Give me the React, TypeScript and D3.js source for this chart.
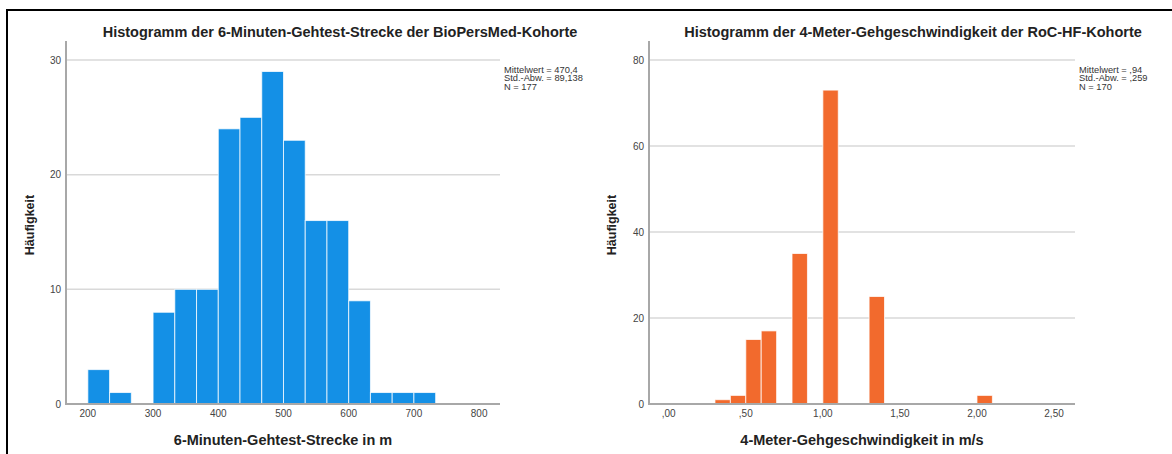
import React from "react";
import * as d3 from "d3";

// ---- Data ----
const leftTitle = "Histogramm der 6-Minuten-Gehtest-Strecke der BioPersMed-Kohorte";
const leftXLabel = "6-Minuten-Gehtest-Strecke in m";
const leftBinStart = 200;
const leftBinWidth = 100 / 3;
const leftCounts = [3, 1, 0, 8, 10, 10, 24, 25, 29, 23, 16, 16, 9, 1, 1, 1];
const leftXTicks = [200, 300, 400, 500, 600, 700, 800];
const leftYTicks = [0, 10, 20, 30];
const leftStats = ["Mittelwert = 470,4", "Std.-Abw. = 89,138", "N = 177"];

const rightTitle = "Histogramm der 4-Meter-Gehgeschwindigkeit der RoC-HF-Kohorte";
const rightXLabel = "4-Meter-Gehgeschwindigkeit in m/s";
const rightBinStart = 0.3;
const rightBinWidth = 0.1;
const rightCounts = [1, 2, 15, 17, 0, 35, 0, 73, 0, 0, 25, 0, 0, 0, 0, 0, 0, 2];
const rightXTicks = [0, 0.5, 1.0, 1.5, 2.0, 2.5];
const rightYTicks = [0, 20, 40, 60, 80];
const rightStats = ["Mittelwert = ,94", "Std.-Abw. = ,259", "N = 170"];

const yLabel = "Häufigkeit";

const FONT = "'Liberation Sans', Arial, sans-serif";

const fmtDe = (v: number) => {
  const s = v.toFixed(2).replace(".", ",");
  return s.startsWith("0,") ? s.slice(1) : s;
};

type PanelProps = {
  title: string;
  titleX: number;
  xLabel: string;
  xDomain: [number, number];
  xRange: [number, number];
  yMax: number;
  binStart: number;
  binWidth: number;
  counts: number[];
  xTicks: number[];
  yTicks: number[];
  xFmt: (v: number) => string;
  stats: string[];
  color: string;
  yLabelX: number;
};

function Panel(p: PanelProps) {
  const top = 41;
  const bottom = 404;
  const x = d3.scaleLinear().domain(p.xDomain).range(p.xRange);
  const y = d3.scaleLinear().domain([0, p.yMax]).range([bottom, top]);
  const [x0, x1] = p.xRange;
  const bins = p.counts.map((c, i) => ({
    lo: p.binStart + i * p.binWidth,
    hi: p.binStart + (i + 1) * p.binWidth,
    c,
  }));
  return (
    <g>
      <text
        x={p.titleX}
        y={37}
        textAnchor="middle"
        fontFamily={FONT}
        fontWeight="bold"
        fontSize={14.5}
        fill="#222"
      >
        {p.title}
      </text>
      {p.yTicks
        .filter((t) => t > 0)
        .map((t) => (
          <line key={t} x1={x0} x2={x1} y1={y(t)} y2={y(t)} stroke="#d9d9d9" strokeWidth={1.5} />
        ))}
      {bins
        .filter((b) => b.c > 0)
        .map((b, i) => (
          <rect
            key={i}
            x={x(b.lo)}
            y={y(b.c)}
            width={x(b.hi) - x(b.lo)}
            height={y(0) - y(b.c)}
            fill={p.color}
            stroke="rgba(255,255,255,0.75)"
            strokeWidth={1}
          />
        ))}
      <line x1={x0} x2={x0} y1={top} y2={bottom + 1} stroke="#a8a8a8" strokeWidth={2} />
      <line x1={x0} x2={x1} y1={bottom} y2={bottom} stroke="#a8a8a8" strokeWidth={2} />
      {p.yTicks.map((t) => (
        <text
          key={t}
          x={x0 - 5}
          y={y(t) + 3.5}
          textAnchor="end"
          fontFamily={FONT}
          fontSize={10}
          fill="#444"
        >
          {t}
        </text>
      ))}
      {p.xTicks.map((t) => (
        <text
          key={t}
          x={x(t)}
          y={417}
          textAnchor="middle"
          fontFamily={FONT}
          fontSize={10}
          fill="#444"
        >
          {p.xFmt(t)}
        </text>
      ))}
      <text
        x={(x0 + x1) / 2}
        y={445}
        textAnchor="middle"
        fontFamily={FONT}
        fontWeight="bold"
        fontSize={14.5}
        fill="#222"
      >
        {p.xLabel}
      </text>
      <text
        transform={`translate(${p.yLabelX},225) rotate(-90)`}
        textAnchor="middle"
        fontFamily={FONT}
        fontWeight="bold"
        fontSize={12.5}
        fill="#222"
      >
        {yLabel}
      </text>
      {p.stats.map((s, i) => (
        <text
          key={i}
          x={x1 + 4}
          y={72.5 + i * 8.7}
          fontFamily={FONT}
          fontSize={9.3}
          fill="#333"
        >
          {s}
        </text>
      ))}
    </g>
  );
}

export default function App() {
  return (
    <svg
      width={1172}
      height={454}
      style={{ position: "absolute", left: 0, top: 0, background: "#fff" }}
    >
      <rect x={0} y={0} width={1172} height={454} fill="#fff" />
      <line x1={6} x2={1172} y1={10} y2={10} stroke="#000" strokeWidth={2} />
      <line x1={7} x2={7} y1={9} y2={454} stroke="#000" strokeWidth={2} />
      <Panel
        title={leftTitle}
        titleX={340}
        xLabel={leftXLabel}
        xDomain={[166.5, 832]}
        xRange={[66, 500]}
        yMax={31.66}
        binStart={leftBinStart}
        binWidth={leftBinWidth}
        counts={leftCounts}
        xTicks={leftXTicks}
        yTicks={leftYTicks}
        xFmt={(v) => String(v)}
        stats={leftStats}
        color="#1490E6"
        yLabelX={34}
      />
      <Panel
        title={rightTitle}
        titleX={913}
        xLabel={rightXLabel}
        xDomain={[-0.128, 2.636]}
        xRange={[649, 1075]}
        yMax={84.42}
        binStart={rightBinStart}
        binWidth={rightBinWidth}
        counts={rightCounts}
        xTicks={rightXTicks}
        yTicks={rightYTicks}
        xFmt={fmtDe}
        stats={rightStats}
        color="#F26A2D"
        yLabelX={616}
      />
    </svg>
  );
}
